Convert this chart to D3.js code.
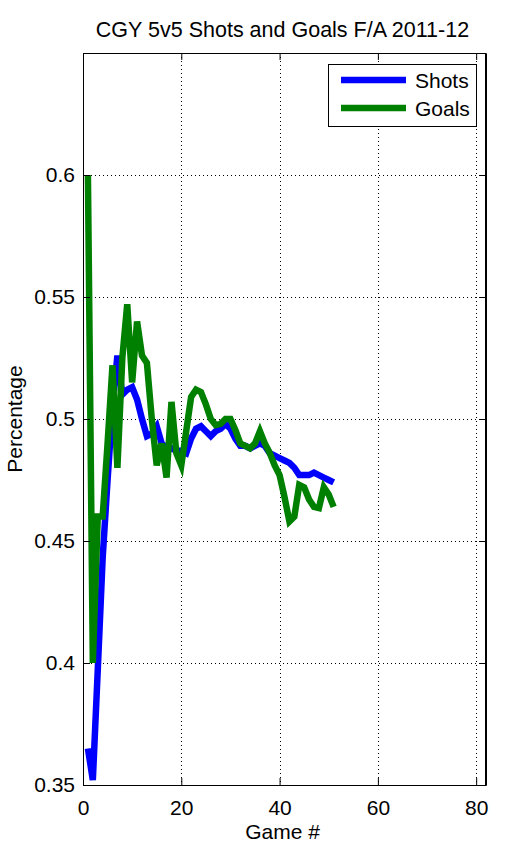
<!DOCTYPE html>
<html><head><meta charset="utf-8">
<script src="https://cdn.jsdelivr.net/npm/d3@7"></script>
<style>
body{margin:0;background:#fff}
text{font-family:"Liberation Sans",Arial,Helvetica,sans-serif;fill:#000}
</style>
</head><body>
<svg id="chart" width="518" height="847"></svg>
<script>
const titleText = "CGY 5v5 Shots and Goals F/A 2011-12";
const xLabel = "Game #";
const yLabel = "Percentage";
const seriesNames = ["Shots", "Goals"];
const seriesColors = ["#0000ff", "#008000"];
const games = d3.range(1, 52);
const shots = [0.365,0.352,0.397,0.443,0.475,0.505,0.526,0.510,0.512,0.513,
  0.508,0.500,0.493,0.494,0.497,0.490,0.488,0.488,0.487,0.487,
  0.486,0.492,0.496,0.497,0.495,0.493,0.495,0.496,0.498,0.496,
  0.492,0.489,0.489,0.488,0.489,0.490,0.489,0.486,0.485,0.484,
  0.483,0.482,0.480,0.477,0.477,0.477,0.478,0.477,0.476,0.475,0.474];
const goals = [0.600,0.400,0.460,0.460,0.490,0.522,0.480,0.525,0.547,0.515,
  0.540,0.526,0.523,0.500,0.481,0.490,0.476,0.507,0.486,0.481,
  0.495,0.509,0.512,0.511,0.506,0.500,0.4975,0.498,0.500,0.500,
  0.4955,0.490,0.489,0.488,0.490,0.495,0.490,0.486,0.481,0.477,
  0.468,0.458,0.460,0.473,0.472,0.467,0.464,0.4635,0.472,0.469,0.464];
const xTicks = [0, 20, 40, 60, 80];
const yTicks = [0.35, 0.4, 0.45, 0.5, 0.55, 0.6];
const xDomain = [0, 82];
const yDomain = [0.35, 0.65];

const L = 83, R = 486, T = 53, B = 785;
const svg = d3.select("#chart");
const x = d3.scaleLinear().domain(xDomain).range([L, R]);
const y = d3.scaleLinear().domain(yDomain).range([B, T]);

svg.append("rect").attr("x",0).attr("y",0).attr("width",518).attr("height",847).attr("fill","#fff");

// grid
const grid = svg.append("g").attr("stroke","#000").attr("stroke-width",1).attr("stroke-dasharray","1,3");
xTicks.forEach(t => grid.append("line").attr("x1",Math.round(x(t))+0.5).attr("x2",Math.round(x(t))+0.5).attr("y1",T).attr("y2",B));
yTicks.forEach(t => grid.append("line").attr("y1",Math.round(y(t))+0.5).attr("y2",Math.round(y(t))+0.5).attr("x1",L).attr("x2",R));

// clip
svg.append("clipPath").attr("id","clip").append("rect").attr("x",L).attr("y",T).attr("width",R-L).attr("height",B-T);

const line = d3.line().x((d,i) => x(games[i])).y(d => y(d));
[shots, goals].forEach((s, k) => {
  svg.append("path").datum(s).attr("d", line).attr("fill","none")
    .attr("stroke", seriesColors[k]).attr("stroke-width", 6.5)
    .attr("clip-path","url(#clip)");
});

// axes
const fs = "21px";
const ax = svg.append("g").attr("transform",`translate(0,${B})`)
  .call(d3.axisBottom(x).tickValues(xTicks).tickSizeInner(-7).tickSizeOuter(0).tickPadding(10).tickFormat(d3.format("d")));
const ay = svg.append("g").attr("transform",`translate(${L},0)`)
  .call(d3.axisLeft(y).tickValues(yTicks).tickSizeInner(-7).tickSizeOuter(0).tickPadding(8).tickFormat(d => String(d)));
const at = svg.append("g").attr("transform",`translate(0,${T})`)
  .call(d3.axisTop(x).tickValues(xTicks).tickSizeInner(-7).tickSizeOuter(0).tickFormat(""));
const ar = svg.append("g").attr("transform",`translate(${R},0)`)
  .call(d3.axisRight(y).tickValues(yTicks).tickSizeInner(-7).tickSizeOuter(0).tickFormat(""));
[ax, ay, at, ar].forEach(g => {
  g.selectAll("text").style("font-size", fs).attr("fill","#000");
  g.selectAll("line").attr("stroke","#000");
  g.select(".domain").attr("stroke","#000");
});
ax.selectAll("text").attr("dy","0.95em");

// frame
svg.append("rect").attr("x",L+0.5).attr("y",T+0.5).attr("width",R-L-1).attr("height",B-T).attr("fill","none").attr("stroke","#000");

// title & labels
svg.append("text").attr("x",(L+R)/2 - 2).attr("y",37).attr("text-anchor","middle").style("font-size","21.5px").text(titleText);
svg.append("text").attr("x",(L+R)/2 - 2).attr("y",839).attr("text-anchor","middle").style("font-size",fs).text(xLabel);
svg.append("text").attr("transform",`translate(22,${(T+B)/2}) rotate(-90)`).attr("text-anchor","middle").style("font-size",fs).text(yLabel);

// legend
const lg = svg.append("g");
lg.append("rect").attr("x",328.5).attr("y",64.5).attr("width",148).attr("height",62).attr("fill","#fff").attr("stroke","#000");
seriesNames.forEach((n, i) => {
  const yy = 80 + i * 28;
  lg.append("line").attr("x1",341).attr("x2",406).attr("y1",yy).attr("y2",yy).attr("stroke",seriesColors[i]).attr("stroke-width",6.5);
  lg.append("text").attr("x",415).attr("y",yy + 8).style("font-size",fs).text(n);
});
</script>
</body></html>
